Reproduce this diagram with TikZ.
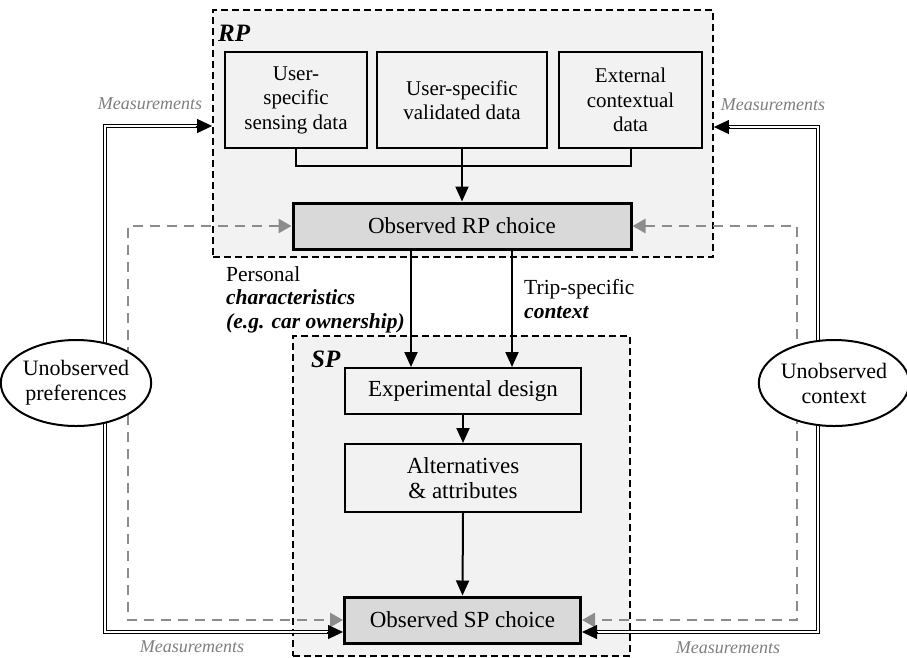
\documentclass[tikz,border=0pt]{standalone}
\usepackage{fontspec}
\setmainfont{Liberation Serif}
\usetikzlibrary{arrows.meta,shapes.geometric,calc}
\definecolor{bgc}{HTML}{F2F2F2}
\definecolor{obsc}{HTML}{D9D9D9}
\definecolor{dgray}{HTML}{8C8C8C}
\definecolor{mgray}{HTML}{7F7F7F}
\begin{document}
\begin{tikzpicture}[x=1pt,y=-1pt,
  container/.style={draw, dash pattern=on 7pt off 4pt, line width=1.8pt, fill=bgc, inner sep=0pt},
  databox/.style={draw, line width=2pt, fill=bgc, align=center, inner sep=0pt, font=\fontsize{21}{24.5}\selectfont},
  obsbox/.style={draw, line width=3pt, fill=obsc, inner sep=0pt, font=\fontsize{23}{26}\selectfont},
  sbox/.style={draw, line width=2pt, fill=bgc, align=center, inner sep=0pt, font=\fontsize{23}{25}\selectfont},
  arr/.style={line width=2pt, -{Triangle[length=15pt,width=13pt]}},
  dbl/.style={line width=1.2pt, double=white, double distance=2.4pt},
  dtip/.style={line width=1pt, -{Triangle[length=15pt,width=14pt]}},
  gdash/.style={draw=dgray, line width=2.8pt, dash pattern=on 10pt off 7pt, {Triangle[length=13pt,width=14pt]}-{Triangle[length=13pt,width=14pt]}},
  meas/.style={text=mgray, font=\fontsize{18}{20}\selectfont\itshape},
  ell/.style={draw, ellipse, line width=2pt, fill=white, minimum width=137pt, minimum height=86pt, inner sep=0pt, align=center, font=\fontsize{22}{25}\selectfont},
  lbl/.style={align=left, inner sep=0pt, font=\fontsize{21.5}{23.5}\selectfont},
  title/.style={inner sep=0pt, font=\fontsize{25}{28}\selectfont\bfseries\itshape}
]
\useasboundingbox (0,0) rectangle (907,657);

% containers
\node[container, minimum width=500pt, minimum height=247pt] (rp) at (463,133.5) {};
\node[container, minimum width=337pt, minimum height=320pt] (sp) at (461.5,496) {};
\node[title, anchor=base west] (rpt) at (218,41) {RP};
\node[title, anchor=base west] (spt) at (311,367) {SP};

% RP boxes
\node[databox, minimum width=142pt, minimum height=96pt] (s1) at (296,100) {User-\\specific\\sensing data};
\node[databox, minimum width=170pt, minimum height=96pt] (s2) at (462,100) {User-specific\\validated data};
\node[databox, minimum width=143pt, minimum height=96pt] (s3) at (630.5,100) {External\\contextual\\data};
\node[obsbox, minimum width=338pt, minimum height=46pt] (orp) at (462,226) {Observed RP choice};

% SP boxes
\node[sbox, minimum width=236pt, minimum height=46pt] (exp) at (463,391) {Experimental design};
\node[sbox, minimum width=236pt, minimum height=68pt] (alt) at (463,478) {Alternatives\\\& attributes};
\node[obsbox, minimum width=236pt, minimum height=46pt] (osp) at (462.5,620) {Observed SP choice};

% RP connectors
\coordinate (j) at (462,166);
\draw[line width=2pt] (s1.south) |- (j) -| (s3.south);
\draw[arr] (s2.south) -- (orp.north);

% RP -> SP
\draw[arr] (orp.south -| 411,0) -- (exp.north -| 411,0);
\draw[arr] (orp.south -| 512,0) -- (exp.north -| 512,0);
\draw[arr] (exp.south) -- (alt.north);
\draw[arr] (alt.south) -- (osp.north);

% labels
\node[lbl, anchor=base west] (pl) at (226,328) {Personal\\\textbf{\textit{characteristics}}\\\textbf{\textit{(e.g. car ownership)}}};
\node[lbl, anchor=base west] (tl) at (524,318) {Trip-specific\\\textbf{\textit{context}}};

% gray dashed
\coordinate (gl1) at (128,226);
\coordinate (gl2) at (128,620);
\coordinate (gr1) at (797,226);
\coordinate (gr2) at (797,620);
\draw[gdash] (orp.west) -- (gl1) -- (gl2) -- (osp.west);
\draw[gdash] (orp.east) -- (gr1) -- (gr2) -- (osp.east);

% double lines
\coordinate (dl1) at (105,126);
\coordinate (dl2) at (105,632);
\coordinate (dr1) at (818,127);
\coordinate (dr2) at (818,632);
\draw[dbl] ($(rp.west|-dl1)+(-14,0)$) -- (dl1) -- (dl2) -- ($(osp.west|-dl2)+(-14,0)$);
\draw[dtip] ($(rp.west|-dl1)+(-16,0)$) -- (rp.west|-dl1);
\draw[dtip] ($(osp.west|-dl2)+(-16,0)$) -- (osp.west|-dl2);
\draw[dbl] ($(rp.east|-dr1)+(14,0)$) -- (dr1) -- (dr2) -- ($(osp.east|-dr2)+(14,0)$);
\draw[dtip] ($(rp.east|-dr1)+(16,0)$) -- (rp.east|-dr1);
\draw[dtip] ($(osp.east|-dr2)+(16,0)$) -- (osp.east|-dr2);

% ellipses
\node[ell] (up) at (76,383) {Unobserved\\preferences};
\node[ell] (uc) at (834,383) {Unobserved\\context};

% measurements
\node[meas] (m1) at (150,104) {Measurements};
\node[meas] (m2) at (773,105) {Measurements};
\node[meas] (m3) at (192,647) {Measurements};
\node[meas] (m4) at (728,648) {Measurements};
\end{tikzpicture}
\end{document}
